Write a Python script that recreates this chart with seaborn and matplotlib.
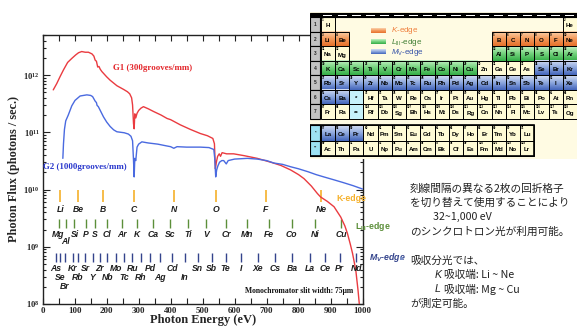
import numpy as np
import pandas as pd
import matplotlib
matplotlib.use("Agg")
import matplotlib.pyplot as plt
import seaborn as sns
from matplotlib.patches import Rectangle
from matplotlib.colors import LinearSegmentedColormap
from matplotlib.ticker import LogLocator, NullFormatter, FixedLocator

# ---------------- data ----------------
g1_energy = [33, 44, 54, 65, 78, 91, 103, 112, 122, 133, 143, 154, 160, 164, 168, 172, 176, 180,
             185, 200, 211, 232, 253, 265, 272, 278, 281, 284, 286, 288, 291, 295, 300, 307, 315,
             330, 347, 370, 389, 400, 410, 430, 462, 493, 515, 532, 537, 540, 543, 547, 552, 556,
             561, 575, 597, 630, 671, 713, 745, 775, 800, 817, 840, 859, 869, 890, 911, 932, 945,
             953, 962, 969, 979, 986, 990, 992]
g1_flux = [5.5e11, 7.1e11, 9.3e11, 1.23e12, 1.66e12, 1.95e12, 2.24e12, 2.45e12, 2.57e12, 2.5e12,
           2.5e12, 2.34e12, 2.14e12, 1.82e12, 1.74e12, 1.38e12, 1.41e12, 1.26e12,
           1.15e12, 9.3e11, 8.1e11, 6.5e11, 5.6e11, 5.1e11, 4.7e11, 4.0e11, 3.0e11, 1.41e11,
           1.15e11, 2.1e11, 1.78e11, 2.14e11, 2.4e11, 2.63e11, 2.8e11,
           2.57e11, 2.3e11, 2.0e11, 1.74e11, 1.66e11, 1.55e11, 1.35e11, 1.12e11, 9.5e10, 8.7e10,
           7.8e10, 6.3e10, 2.3e10, 3.0e10, 3.8e10, 4.2e10, 3.8e10,
           4.4e10, 4.2e10, 4.2e10, 3.9e10, 3.5e10, 3.0e10, 2.63e10, 2.2e10, 1.82e10, 1.55e10,
           1.15e10, 8.5e9, 7.4e9, 6.2e9, 5.0e9, 3.3e9, 2.3e9,
           1.7e9, 1.1e9, 7.6e8, 3.9e8, 1.74e8, 1.0e8, 7.9e7]

g2_energy = [63, 65, 68, 72, 80, 91, 101, 117, 138, 150, 156, 164, 168, 170, 174, 190, 200, 211,
             222, 232, 255, 268, 276, 281, 284, 286, 288, 291, 295, 300, 310, 330, 360, 389, 400,
             410, 420, 450, 493, 520, 535, 538, 541, 544, 548, 553, 560, 566, 574, 580, 600, 640,
             671, 700, 723, 750, 775, 800, 830, 855, 879, 910, 940, 970, 1000]
g2_flux = [3.5e10, 6.3e10, 1.12e11, 1.58e11, 2.0e11, 2.9e11, 3.6e11, 4.3e11, 4.5e11, 4.4e11,
           4.2e11, 3.5e11, 3.3e11, 2.95e11, 2.8e11, 1.86e11, 1.51e11, 1.26e11,
           1.1e11, 1.02e11, 9.8e10, 9.3e10, 8.5e10, 7.1e10, 3.2e10, 1.66e10, 3.5e10, 3.2e10,
           5.5e10, 6.2e10, 6.8e10, 6.5e10, 6.2e10, 5.75e10, 5.6e10,
           5.25e10, 5.6e10, 5.5e10, 5.5e10, 5.4e10, 5.0e10, 3.5e10, 1.66e10, 2.2e10, 2.6e10,
           3.0e10, 3.2e10, 3.2e10, 2.8e10, 3.2e10, 3.4e10, 3.5e10,
           3.4e10, 3.2e10, 2.9e10, 2.75e10, 2.5e10, 2.3e10, 2.04e10, 1.82e10, 1.66e10, 1.48e10,
           1.32e10, 1.17e10, 1.02e10]

k_edge_elements = ['Li', 'Be', 'B', 'C', 'N', 'O', 'F', 'Ne']
k_edge_energies = [54.7, 111.5, 188.0, 284.2, 409.9, 543.1, 696.7, 870.2]

l3_edge_elements = ['Mg', 'Al', 'Si', 'P', 'S', 'Cl', 'Ar', 'K', 'Ca', 'Sc', 'Ti', 'V', 'Cr',
                    'Mn', 'Fe', 'Co', 'Ni', 'Cu']
l3_edge_energies = [49.5, 72.5, 99.4, 135.0, 162.5, 200.0, 248.4, 294.6, 346.2, 398.7, 453.8,
                    512.1, 574.1, 638.7, 706.8, 778.1, 852.7, 932.7]
l3_label_rows = [0, 1, 0, 0, 0, 0, 0, 0, 0, 0, 0, 0, 0, 0, 0, 0, 0, 0]

m5_edge_elements = ['As', 'Se', 'Br', 'Kr', 'Rb', 'Sr', 'Y', 'Zr', 'Nb', 'Mo', 'Tc', 'Ru', 'Rh',
                    'Pd', 'Ag', 'Cd', 'In', 'Sn', 'Sb', 'Te', 'I', 'Xe', 'Cs', 'Ba', 'La', 'Ce',
                    'Pr', 'Nd']
m5_edge_energies = [41.7, 55.5, 69.0, 93.8, 110.3, 133.1, 155.8, 178.8, 202.3, 227.9, 253.9,
                    279.9, 307.2, 335.2, 367.3, 404.0, 443.9, 484.9, 528.2, 572.1, 619.3, 672.3,
                    726.6, 780.5, 836.0, 883.8, 928.8, 980.4]
m5_label_rows = [0, 1, 2, 0, 1, 0, 1, 0, 1, 0, 1, 0, 1, 0, 1, 0, 1, 0, 0, 0, 0, 0, 0, 0, 0, 0,
                 0, 0]

x_ticks = [0, 100, 200, 300, 400, 500, 600, 700, 800, 900, 1000]
x_tick_labels = ['0', '100', '200', '300', '400', '500', '600', '700', '800', '900', '1000']
y_ticks = [1e8, 1e9, 1e10, 1e11, 1e12]
y_tick_labels = [r'$\mathbf{10^{8}}$', r'$\mathbf{10^{9}}$', r'$\mathbf{10^{10}}$',
                 r'$\mathbf{10^{11}}$', r'$\mathbf{10^{12}}$']

periodic_rows = [
    "H . . . . . . . . . . . . . . . . He",
    "Li Be . . . . . . . . . . B C N O F Ne",
    "Na Mg . . . . . . . . . . Al Si P S Cl Ar",
    "K Ca Sc Ti V Cr Mn Fe Co Ni Cu Zn Ga Ge As Se Br Kr",
    "Rb Sr Y Zr Nb Mo Tc Ru Rh Pd Ag Cd In Sn Sb Te I Xe",
    "Cs Ba * Hf Ta W Re Os Ir Pt Au Hg Tl Pb Bi Po At Rn",
    "Fr Ra ** Rf Db Sg Bh Hs Mt Ds Rg Cn Nh Fl Mc Lv Ts Og",
]
lanthanides = "La Ce Pr Nd Pm Sm Eu Gd Tb Dy Ho Er Tm Yb Lu".split()
actinides = "Ac Th Pa U Np Pu Am Cm Bk Cf Es Fm Md No Lr".split()

table_k_cells = ['Li', 'Be', 'B', 'C', 'N', 'O', 'F', 'Ne']
table_l_cells = ['Al', 'Si', 'P', 'S', 'Cl', 'Ar', 'K', 'Ca', 'Sc', 'Ti', 'V', 'Cr', 'Mn', 'Fe',
                 'Co', 'Ni', 'Cu']
table_m_cells = ['Se', 'Br', 'Kr', 'Rb', 'Sr', 'Y', 'Zr', 'Nb', 'Mo', 'Tc', 'Ru', 'Rh', 'Pd',
                 'Ag', 'Cd', 'In', 'Sn', 'Sb', 'Te', 'I', 'Xe', 'Cs', 'Ba', 'La', 'Ce', 'Pr']

jp_lines = ["刻線間隔の異なる2枚の回折格子",
            "を切り替えて使用することにより",
            "32~1,000 eV",
            "のシンクロトロン光が利用可能。",
            "吸収分光では、",
            "吸収端: Li ~ Ne",
            "吸収端: Mg ~ Cu",
            "が測定可能。"]

# ---------------- style ----------------
sns.set_style("ticks")
plt.rcParams['font.family'] = ['Liberation Serif', 'DejaVu Sans']
plt.rcParams['mathtext.fontset'] = 'custom'
plt.rcParams['mathtext.rm'] = 'Liberation Sans'
plt.rcParams['mathtext.it'] = 'Liberation Sans:italic'
plt.rcParams['mathtext.bf'] = 'Liberation Serif:bold'

W, H = 577, 327
fig = plt.figure(figsize=(W / 100, H / 100), dpi=100)
fig.patch.set_facecolor('white')


def fx(px):
    return px / W


def fy(py):
    return 1 - py / H


RED = '#ea3b40'
BLUE = '#4a6ae0'
K_COL = '#f5b02a'
L_COL = '#5c8f3a'
M_COL = '#34448c'

ax = fig.add_axes([fx(42.7), fy(304), (362.5 - 42.7) / W, (304 - 35) / H])
ax.set_facecolor('white')

df1 = pd.DataFrame({'energy': g1_energy, 'flux': g1_flux})
df2 = pd.DataFrame({'energy': g2_energy, 'flux': g2_flux})
sns.lineplot(data=df1, x='energy', y='flux', ax=ax, color=RED, lw=1.0,
             estimator=None, sort=False, zorder=3)
sns.lineplot(data=df2, x='energy', y='flux', ax=ax, color=BLUE, lw=1.0,
             estimator=None, sort=False, zorder=3)

ax.set_yscale('log')
ax.set_xlim(0, 1000)
ax.set_ylim(1e8, 5e12)

# ticks
ax.set_xticks(x_ticks)
ax.set_xticklabels(x_tick_labels, fontsize=6.5, fontweight='bold', family='Liberation Serif')
ax.xaxis.set_minor_locator(FixedLocator(np.arange(50, 1000, 100)))
ax.set_yticks(y_ticks)
ax.set_yticklabels(y_tick_labels, fontsize=6.2)
ax.yaxis.set_minor_locator(LogLocator(base=10, subs=np.arange(2, 10)))
ax.yaxis.set_minor_formatter(NullFormatter())
ax.tick_params(which='both', direction='in', top=True, right=True, color='#222222', width=0.8)
ax.tick_params(axis='x', which='both', length=4, pad=2)
ax.tick_params(axis='y', which='major', length=5, pad=2)
ax.tick_params(axis='y', which='minor', length=2.5)
for s in ax.spines.values():
    s.set_linewidth(1.0)
    s.set_color('#222222')

ax.set_xlabel('Photon Energy (eV)', fontsize=9, fontweight='bold', family='Liberation Serif')
ax.set_ylabel('Photon Flux (photons / sec.)', fontsize=8.8, fontweight='bold',
              family='Liberation Serif')
ax.xaxis.set_label_coords(0.5, -0.058)
ax.xaxis.label.set_va('center')
ax.yaxis.set_label_coords(-0.09, 0.5)
ax.yaxis.label.set_va('center')

# edge markers
lab_kw = dict(ha='center', va='center', fontsize=6.2, fontstyle='italic', fontweight='bold',
              family='Liberation Sans', color='#1e1e1e', zorder=4)
ax.vlines(k_edge_energies, 6.1e9, 9.8e9, color=K_COL, lw=1.2, zorder=2)
for e, name in zip(k_edge_energies, k_edge_elements):
    ax.text(e, 4.45e9, name, **lab_kw)

l_rows_y = [1.66e9, 1.22e9]
ax.vlines(l3_edge_energies, 2.1e9, 3.0e9, color=L_COL, lw=1.0, zorder=2)
for e, name, r in zip(l3_edge_energies, l3_edge_elements, l3_label_rows):
    ax.text(e, l_rows_y[r], name, **lab_kw)

m_rows_y = [4.15e8, 2.9e8, 2.03e8]
ax.vlines(m5_edge_energies, 5.5e8, 7.8e8, color=M_COL, lw=1.0, zorder=2)
for e, name, r in zip(m5_edge_energies, m5_edge_elements, m5_label_rows):
    ax.text(e, m_rows_y[r], name, **lab_kw)

side_kw = dict(ha='left', va='center', fontsize=6.3, fontweight='bold', family='Liberation Sans',
               clip_on=False, zorder=6)
ax.text(919, 7.1e9, 'K-edge', color=K_COL, **side_kw)
ax.text(976, 2.3e9, r'$\mathdefault{L_{III}}$-edge', color=L_COL, **side_kw)
ax.text(1020, 6.5e8, r'$\mathdefault{M_{V}}$-edge', color=M_COL, fontstyle='italic', **side_kw)

ax.text(220, 1.32e12, 'G1 (300grooves/mm)', color='#e3262b', fontsize=6.4, fontweight='bold',
        family='Liberation Serif', ha='left', va='center', zorder=5)
ax.text(2, 2.45e10, 'G2 (1000grooves/mm)', color='#2a38cc', fontsize=6.4, fontweight='bold',
        family='Liberation Serif', ha='left', va='center', zorder=5)
ax.text(634, 1.7e8, 'Monochromator slit width: 75μm', color='#111111', fontsize=5.5,
        fontweight='bold', family='Liberation Serif', ha='left', va='center', zorder=5)

# ---------------- periodic table inset ----------------
CW, RH = 14.24, 14.5
x_left_px = 320.7 - 0.72 * CW
top_px = 17.3 - 0.35 * RH
bot_px = 17.3 + 9.75 * RH
axt = fig.add_axes([fx(x_left_px), fy(bot_px), (577 - x_left_px) / W, (bot_px - top_px) / H])
axt.set_facecolor('#fffbe3')
for s in axt.spines.values():
    s.set_visible(False)
axt.set_xticks([])
axt.set_yticks([])

grad = np.linspace(0, 1, 24).reshape(-1, 1)
cmaps = {
    'K': LinearSegmentedColormap.from_list('k', ['#fbd2ac', '#f39a5c', '#e6712c']),
    'L': LinearSegmentedColormap.from_list('l', ['#c4f1c4', '#72d27c', '#36ad48']),
    'M': LinearSegmentedColormap.from_list('m', ['#d3ddf2', '#8ea8de', '#4466bb']),
}
CREAM = '#fffbd6'
STAR = '#c6f1fb'

# order for atomic numbers
order = []
for p, row in enumerate(periodic_rows):
    syms = [s for s in row.split() if s not in ('.', '*', '**')]
    if p == 5:
        order += syms[:2] + lanthanides + syms[2:]
    elif p == 6:
        order += syms[:2] + actinides + syms[2:]
    else:
        order += syms
znum = {s: i + 1 for i, s in enumerate(order)}


def kind_of(sym):
    if sym in table_k_cells:
        return 'K'
    if sym in table_l_cells:
        return 'L'
    if sym in table_m_cells:
        return 'M'
    return None


def draw_cell(x0, y0, w, h, sym):
    k = kind_of(sym)
    if k is not None:
        axt.imshow(grad, cmap=cmaps[k], vmin=0, vmax=1, extent=(x0, x0 + w, y0 + h, y0),
                   aspect='auto', interpolation='bilinear', zorder=1)
    else:
        fc = STAR if sym.startswith('*') else CREAM
        axt.add_patch(Rectangle((x0, y0), w, h, fc=fc, ec='none', zorder=1))
    axt.add_patch(Rectangle((x0, y0), w, h, fc='none', ec='black', lw=0.7, zorder=3))
    axt.text(x0 + w / 2, y0 + h * 0.6, sym, ha='center', va='center', fontsize=4.4,
             fontweight='bold', family='Liberation Sans', color='black', zorder=4)
    if sym in znum:
        axt.text(x0 + 0.07, y0 + 0.2, str(znum[sym]), ha='left', va='center', fontsize=2.2,
                 fontweight='bold', family='Liberation Sans', color='black', zorder=4)


# header band
axt.add_patch(Rectangle((-0.72, -0.3), 18.72, 0.3, fc='black', ec='black', lw=0.8, zorder=2))
for g in range(1, 19):
    axt.add_patch(Rectangle((g - 0.82, -0.19), 0.64, 0.09, fc='white', ec='none', zorder=3))

for p, row in enumerate(periodic_rows):
    axt.add_patch(Rectangle((-0.72, p), 0.7, 1, fc='#c2c2c2', ec='black', lw=0.8, zorder=3))
    axt.text(-0.37, p + 0.5, str(p + 1), ha='center', va='center', fontsize=3.4,
             fontweight='bold', family='Liberation Sans', zorder=4)
    for g, sym in enumerate(row.split()):
        if sym == '.':
            continue
        draw_cell(g, p, 1, 1, sym)

for r, series in enumerate([lanthanides, actinides]):
    y0 = 7.45 + r * 1.05
    axt.add_patch(Rectangle((-0.72, y0), 0.7, 1.05, fc='#9de2f2', ec='black', lw=0.8, zorder=3))
    axt.text(-0.37, y0 + 0.5, '*' * (r + 1), ha='center', va='center', fontsize=3,
             fontweight='bold', family='Liberation Sans', zorder=4)
    for g, sym in enumerate(series):
        draw_cell(g, y0, 1, 1.05, sym)
axt.add_patch(Rectangle((-0.72, 7.45), 15.72, 2.1, fc='none', ec='black', lw=1.2, zorder=5))

# legend inside table
leg_items = [('K', r'$\mathit{K}$-edge', '#ef7f3c', 0.92),
             ('L', r'$\mathit{L}_{\mathrm{III}}$-edge', '#3f7f34', 1.72),
             ('M', r'$\mathit{M}_{\mathrm{V}}$-edge', '#3552a8', 2.40)]
for k, label, col, yc in leg_items:
    axt.imshow(grad, cmap=cmaps[k], vmin=0, vmax=1, extent=(3.55, 4.6, yc + 0.15, yc - 0.15),
               aspect='auto', interpolation='bilinear', zorder=2)
    axt.text(4.92, yc, label, ha='left', va='center', fontsize=5.8, color=col, zorder=4,
             family='Liberation Sans', fontweight='normal')

axt.set_xlim(-0.72, 18)
axt.set_ylim(9.75, -0.35)

# ---------------- Japanese notes ----------------
JP_SIZE = 7.7
jp_kw = dict(ha='left', va='center', fontsize=JP_SIZE, color='#222222',
             family=['Noto Sans CJK JP', 'DejaVu Sans'], fontweight='normal')
lat_kw = dict(ha='left', va='center', fontsize=JP_SIZE, color='#222222',
              family='Liberation Sans', fontstyle='italic', fontweight='normal')
fig.text(fx(410), fy(188.5), jp_lines[0], **jp_kw)
fig.text(fx(410), fy(202.5), jp_lines[1], **jp_kw)
fig.text(fx(433), fy(216.5), jp_lines[2], **jp_kw)
fig.text(fx(410), fy(231.5), jp_lines[3], **jp_kw)
fig.text(fx(410), fy(260.5), jp_lines[4], **jp_kw)
fig.text(fx(435), fy(275.0), 'K', **lat_kw)
fig.text(fx(444), fy(275.0), jp_lines[5], **jp_kw)
fig.text(fx(435), fy(289.0), 'L', **lat_kw)
fig.text(fx(444), fy(289.0), jp_lines[6], **jp_kw)
fig.text(fx(410), fy(303.5), jp_lines[7], **jp_kw)
fig.add_artist(Rectangle((fx(399.5), fy(259.5)), 3 / W, 3 / H, transform=fig.transFigure,
                         fc='#7f93c8', ec='none'))

fig.savefig('out.png', dpi=100, facecolor='white')
